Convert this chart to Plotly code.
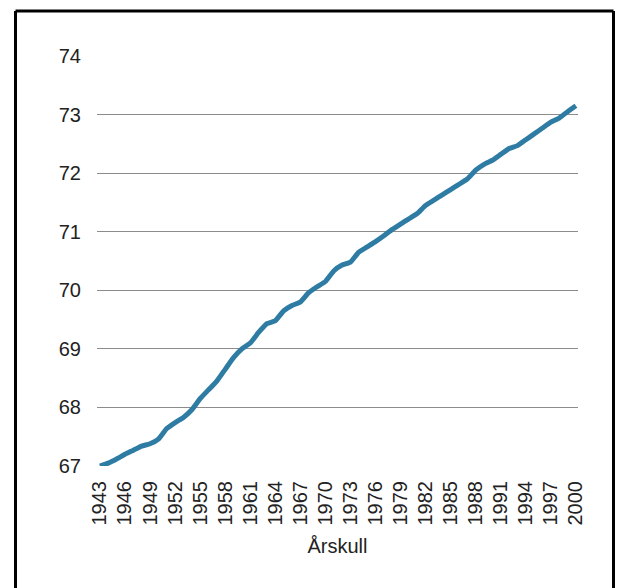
import plotly.graph_objects as go

# Birth cohort (årskull) and value per cohort
years = list(range(1943, 2001))
values = [
    67.00, 67.05, 67.12, 67.20, 67.27, 67.34, 67.38, 67.46, 67.64, 67.74,
    67.83, 67.96, 68.15, 68.30, 68.45, 68.65, 68.85, 69.00, 69.10, 69.28,
    69.43, 69.48, 69.65, 69.74, 69.80, 69.96, 70.06, 70.15, 70.33, 70.43,
    70.48, 70.65, 70.74, 70.83, 70.93, 71.04, 71.13, 71.22, 71.31, 71.45,
    71.54, 71.63, 71.72, 71.81, 71.90, 72.05, 72.15, 72.22, 72.32, 72.42,
    72.47, 72.57, 72.67, 72.77, 72.87, 72.94, 73.05, 73.15,
]
y_ticks = [67, 68, 69, 70, 71, 72, 73, 74]
x_title = "Årskull"

W, H = 627, 588
L, R, T, B = 97, 49, 56, 122
PW, PH = W - L - R, H - T - B

fig = go.Figure()
fig.add_trace(go.Scatter(
    x=years, y=values, mode="lines",
    line=dict(color="#2E7CA3", width=5, shape="spline", smoothing=0.4),
    hoverinfo="x+y", showlegend=False,
))


def px_x(p):
    return (p - L) / PW


def px_y(p):
    return (H - B - p) / PH


# outer frame drawn around the chart
frame = dict(type="line", xref="paper", yref="paper", line=dict(color="black", width=3))
fig.add_shape(**frame, x0=px_x(15.5), x1=px_x(613.5), y0=px_y(11), y1=px_y(11))
fig.add_shape(**frame, x0=px_x(15.5), x1=px_x(15.5), y0=px_y(11), y1=px_y(600))
fig.add_shape(**frame, x0=px_x(613.5), x1=px_x(613.5), y0=px_y(11), y1=px_y(600))

fig.update_layout(
    width=W, height=H,
    margin=dict(l=L, r=R, t=T, b=B, pad=0),
    paper_bgcolor="white", plot_bgcolor="white",
    font=dict(family="Liberation Sans, Arial, sans-serif", size=20, color="#222222"),
    xaxis=dict(
        range=[1942.65, 2000.25], tickmode="linear", tick0=1943, dtick=3,
        tickangle=-90, showgrid=False, zeroline=False, showline=False,
        ticks="", ticklen=0, tickfont=dict(size=20, color="#222222"),
        ticklabelstandoff=10,
        title=dict(text=x_title, font=dict(size=20, color="#222222"), standoff=14),
    ),
    yaxis=dict(
        range=[67, 74], tickvals=y_ticks, showgrid=True, gridcolor="#8C8C8C",
        gridwidth=1, zeroline=False, showline=False, ticks="",
        tickfont=dict(size=20, color="#222222"), ticklabelstandoff=15,
    ),
)

fig.write_html("out.html")
